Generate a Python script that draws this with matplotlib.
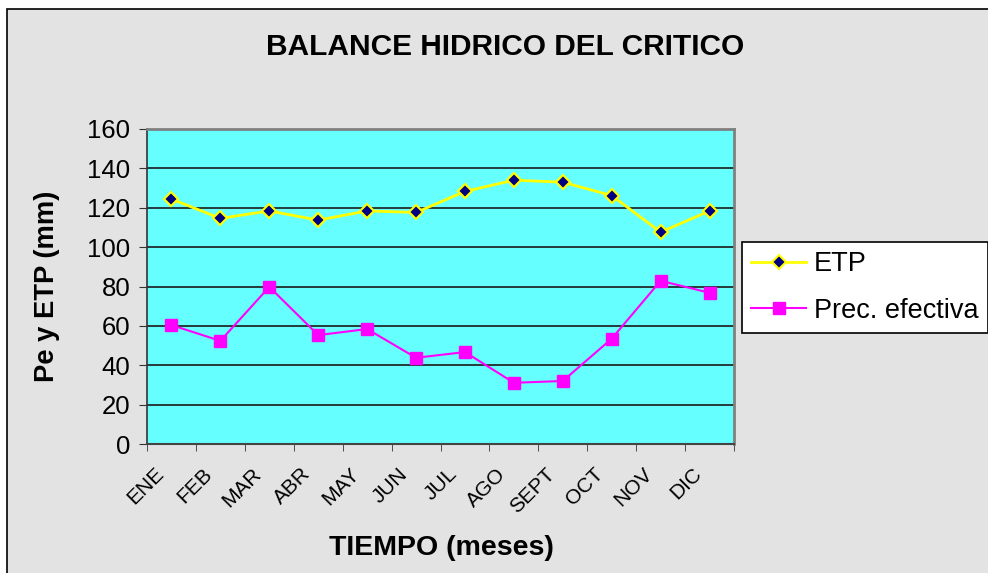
import matplotlib
matplotlib.use("Agg")
import matplotlib.pyplot as plt
from matplotlib.patches import Rectangle
from matplotlib.transforms import ScaledTranslation
import numpy as np

months = ["ENE", "FEB", "MAR", "ABR", "MAY", "JUN", "JUL", "AGO", "SEPT", "OCT", "NOV", "DIC"]
etp = [124.4, 114.6, 118.4, 113.7, 118.4, 117.6, 128.3, 134.0, 133.0, 126.2, 107.6, 118.4]
prec_efectiva = [60.4, 52.4, 79.8, 55.3, 58.4, 43.8, 46.7, 31.1, 32.0, 53.5, 82.9, 76.8]
yticks = [0, 20, 40, 60, 80, 100, 120, 140, 160]

plt.rcParams['font.family'] = ['Liberation Sans', 'DejaVu Sans']

W, H = 988, 573
fig = plt.figure(figsize=(W / 100, H / 100), dpi=100, facecolor="white")
bg = Rectangle((7 / W, -0.1), 2, 1 - 9 / H + 0.1, transform=fig.transFigure,
               facecolor="#E3E3E3", edgecolor="black", linewidth=1.2, zorder=-5)
fig.add_artist(bg)

ax = fig.add_axes([147 / W, 1 - 444 / H, (734 - 147) / W, (444 - 129) / H])
ax.set_zorder(1)
ax.set_facecolor("#66FFFF")
x = np.arange(len(months))

ax.plot(x, etp, color="#FFFF00", lw=2, marker="D", markersize=7.5,
        markerfacecolor="#000080", markeredgecolor="#FFFF00", markeredgewidth=1.5,
        label="ETP", zorder=3)
ax.plot(x, prec_efectiva, color="#FF00FF", lw=1.5, marker="s", markersize=9,
        markerfacecolor="#FF00FF", markeredgecolor="#FF00FF",
        label="Prec. efectiva", zorder=3)

ax.set_xlim(-0.5, len(months) - 0.5)
ax.set_ylim(0, 160)
ax.set_yticks(yticks)
ax.set_yticklabels([str(v) for v in yticks], fontsize=18.5)
ax.yaxis.grid(True, color="#1a1a1a", lw=1.2)
ax.set_axisbelow(True)

ax.set_xticks(x)
ax.set_xticks(np.arange(-0.5, len(months)), minor=True)
ax.tick_params(axis="x", which="major", length=0, pad=0)
ax.tick_params(axis="x", which="minor", length=5, direction="out", color="#333333")
ax.tick_params(axis="y", length=6, direction="out", color="#333333", pad=6)
ax.set_xticklabels(months, fontsize=15, rotation=45, ha="right", va="center",
                   rotation_mode="anchor")
shift = ScaledTranslation(-11 / 100, -27 / 100, fig.dpi_scale_trans)
for tk in ax.xaxis.get_major_ticks():
    tk.label1.set_transform(tk.label1.get_transform() + shift)

for s in ["top", "right"]:
    ax.spines[s].set_color("#808080")
    ax.spines[s].set_linewidth(2)
ax.spines["left"].set_color("#333333")
ax.spines["bottom"].set_color("#444444")
ax.spines["left"].set_linewidth(1.2)
ax.spines["bottom"].set_linewidth(1.5)

fig.text(505 / W, 1 - 47 / H, "BALANCE HIDRICO DEL CRITICO", fontsize=21.5,
         fontweight="bold", ha="center", va="center")
fig.text(441 / W, 1 - 548 / H, "TIEMPO (meses)", fontsize=20.5,
         fontweight="bold", ha="center", va="center")
fig.text(47 / W, 1 - 286 / H, "Pe y ETP (mm)", fontsize=19.7, rotation=90,
         fontweight="bold", ha="center", va="center")

leg = fig.legend(loc="upper left", bbox_to_anchor=(742 / W, 1 - 242 / H), fontsize=19.5,
                 frameon=True, fancybox=False, edgecolor="black", facecolor="white",
                 framealpha=1, borderpad=0.35, handlelength=2.0, handletextpad=0.3,
                 labelspacing=0.75, borderaxespad=0)
leg.get_frame().set_linewidth(1.2)
leg.set_zorder(5)

fig.savefig("out.png", dpi=100, facecolor=fig.get_facecolor())
